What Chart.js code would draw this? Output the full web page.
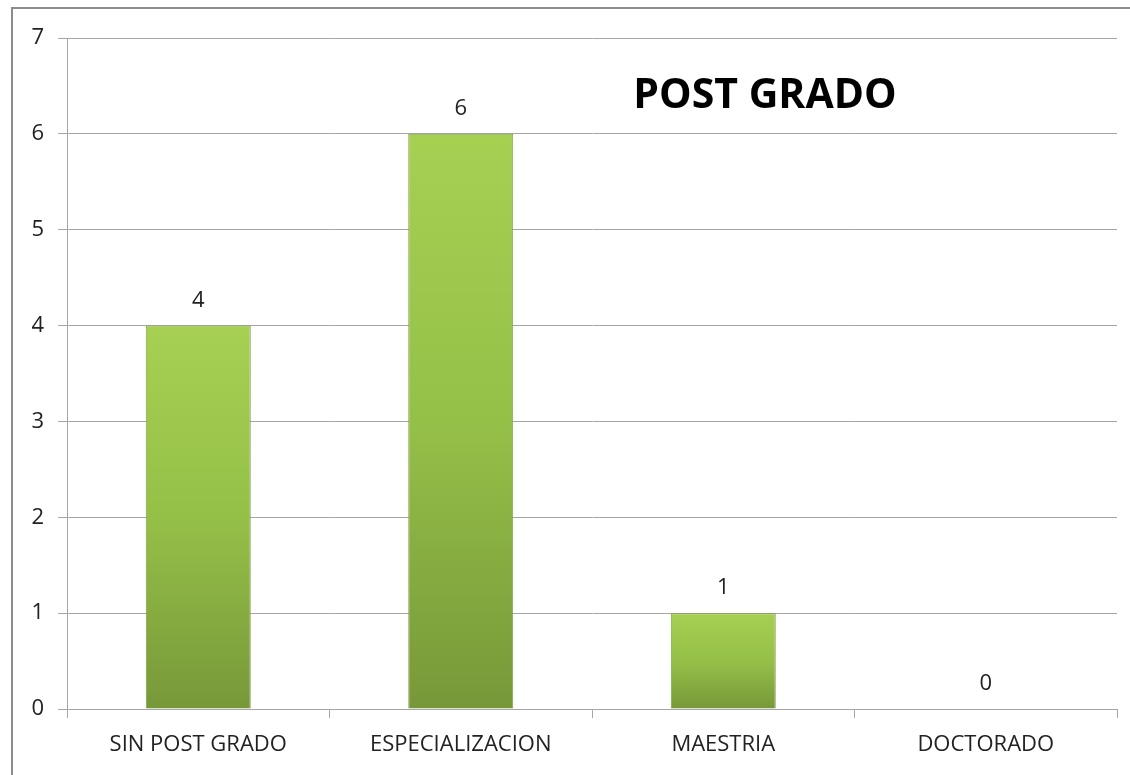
<!DOCTYPE html>
<html>
<head>
<meta charset="utf-8">
<script src="https://cdn.jsdelivr.net/npm/chart.js@4/dist/chart.umd.min.js"></script>
<style>
  html, body { margin: 0; padding: 0; background: #fff; overflow: hidden; }
  #wrap { position: relative; width: 1130px; height: 775px; }
  #frame { position: absolute; left: 11px; top: 7px; width: 1119px; height: 768px; border-left: 2px solid #8c8c8c; border-top: 2px solid #8c8c8c; box-sizing: border-box; }
  canvas { position: absolute; left: 0; top: 0; }
</style>
</head>
<body>
<div id="wrap">
  <div id="frame"></div>
  <canvas id="postChart" width="1130" height="775"></canvas>
</div>
<script>
const categories = ['SIN POST GRADO', 'ESPECIALIZACION', 'MAESTRIA', 'DOCTORADO'];
const values = [4, 6, 1, 0];
const yTicks = [0, 1, 2, 3, 4, 5, 6, 7];
const chartTitle = 'POST GRADO';

// gradient per bar, light at the top, darker at the base
const barFill = (ctx) => {
    const chart = ctx.chart;
    const y = chart.scales.y;
    if (!chart.chartArea || !y) return '#93bf45';
    const top = y.getPixelForValue(values[ctx.dataIndex]);
    const base = y.getPixelForValue(0);
    if (base - top < 1) return '#93bf45';
    const g = chart.ctx.createLinearGradient(0, top, 0, base);
    g.addColorStop(0, '#a6d052');
    g.addColorStop(0.5, '#95c048');
    g.addColorStop(1, '#779839');
    return g;
};

const labelsPlugin = {
    id: 'labelsPlugin',
    afterDatasetsDraw(chart) {
        const c = chart.ctx;
        const meta = chart.getDatasetMeta(0);
        c.save();
        c.font = '22px "Open Sans", sans-serif';
        c.fillStyle = '#222';
        c.textAlign = 'center';
        c.textBaseline = 'alphabetic';
        meta.data.forEach((bar, i) => {
            c.fillText(values[i], bar.x, bar.y - 19);
        });
        // title inside plot area
        c.font = 'bold 41px "Open Sans", sans-serif';
        c.fillStyle = '#000';
        c.fillText(chartTitle, 765, 108);
        c.restore();
    }
};

new Chart(document.getElementById('postChart'), {
    type: 'bar',
    data: {
        labels: categories,
        datasets: [{
            data: values,
            backgroundColor: barFill,
            borderColor: '#7d9a44',
            borderWidth: 1,
            barPercentage: 0.4,
            categoryPercentage: 1.0
        }]
    },
    options: {
        responsive: false,
        animation: false,
        layout: { padding: { top: 38, right: 13, left: 0, bottom: 0 } },
        plugins: {
            legend: { display: false },
            tooltip: { enabled: false }
        },
        scales: {
            x: {
                afterFit: s => { s.height = 66; },
                grid: { display: true, drawOnChartArea: false, tickLength: 9, color: '#a6a6a6', offset: true },
                border: { color: '#a6a6a6' },
                ticks: { color: '#222', font: { family: 'Open Sans', size: 22 }, padding: 14 }
            },
            y: {
                min: 0,
                max: 7,
                afterFit: s => { s.width = 67; },
                afterBuildTicks: s => { s.ticks = yTicks.map(v => ({ value: v })); },
                grid: { color: '#a6a6a6', tickLength: 9 },
                border: { color: '#a6a6a6' },
                ticks: { color: '#222', font: { family: 'Open Sans', size: 22 }, padding: 14 }
            }
        }
    },
    plugins: [labelsPlugin]
});
</script>
</body>
</html>
